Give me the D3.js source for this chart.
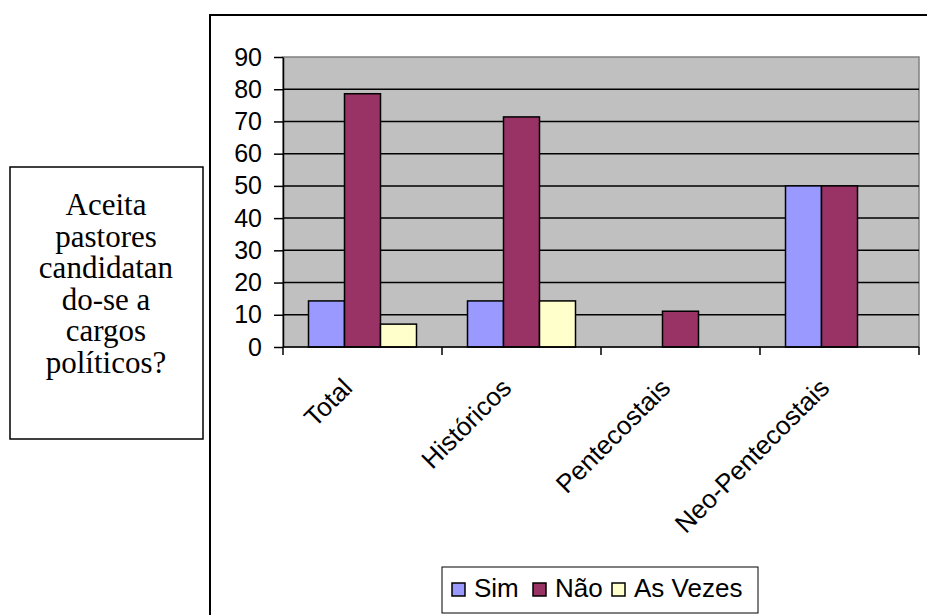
<!DOCTYPE html>
<html>
<head>
<meta charset="utf-8">
<script src="https://cdn.jsdelivr.net/npm/d3@7"></script>
<style>
  body { margin: 0; background: #fff; }
  svg { display: block; }
</style>
</head>
<body>
<script>
var categories = ["Total", "Históricos", "Pentecostais", "Neo-Pentecostais"];
var series = ["Sim", "Não", "As Vezes"];
var sim = [14.3, 14.3, 0, 50];
var nao = [78.6, 71.4, 11.1, 50];
var asVezes = [7.1, 14.3, 0, 0];
var yTicks = [0, 10, 20, 30, 40, 50, 60, 70, 80, 90];
var colors = ["#9999FF", "#993366", "#FFFFCC"];
var questionLines = ["Aceita", "pastores", "candidatan", "do-se a", "cargos", "políticos?"];

var width = 927, height = 615;
var values = [sim, nao, asVezes];
var font = "'Liberation Sans', Arial, sans-serif";

var svg = d3.select("body").append("svg")
    .attr("width", width)
    .attr("height", height);

// chart frame (runs off the page right and bottom)
svg.append("rect")
    .attr("x", 210).attr("y", 15)
    .attr("width", 800).attr("height", 700)
    .attr("fill", "#fff")
    .attr("stroke", "#000")
    .attr("stroke-width", 2);

// question box on the left
svg.append("rect")
    .attr("x", 10).attr("y", 167)
    .attr("width", 193).attr("height", 272)
    .attr("fill", "#fff")
    .attr("stroke", "#000")
    .attr("stroke-width", 1.5);
svg.append("g").selectAll("text")
    .data(questionLines)
    .join("text")
    .attr("x", 106)
    .attr("y", (d, i) => 215 + i * 31.6)
    .attr("text-anchor", "middle")
    .style("font", "31px 'Liberation Serif', 'Times New Roman', serif")
    .text(d => d);

var plot = {left: 283, right: 919, top: 57, bottom: 347};

var x = d3.scaleBand()
    .domain(categories)
    .range([plot.left, plot.right]);
var groupW = 108;
var xs = d3.scaleBand()
    .domain(series)
    .range([0, groupW]);
var y = d3.scaleLinear()
    .domain([0, 90])
    .range([plot.bottom, plot.top]);

// plot background
svg.append("rect")
    .attr("x", plot.left).attr("y", plot.top)
    .attr("width", plot.right - plot.left)
    .attr("height", plot.bottom - plot.top)
    .attr("fill", "#C0C0C0")
    .attr("stroke", "#808080")
    .attr("stroke-width", 1.5);

// gridlines
svg.append("g").selectAll("line")
    .data(yTicks.filter(d => d > 0 && d < 90))
    .join("line")
    .attr("x1", plot.left).attr("x2", plot.right)
    .attr("y1", d => y(d)).attr("y2", d => y(d))
    .attr("stroke", "#000")
    .attr("stroke-width", 1.5);

// bars
var bars = [];
categories.forEach((c, i) => {
    series.forEach((s, j) => {
        if (values[j][i] > 0) bars.push({cat: c, ser: s, idx: j, value: values[j][i]});
    });
});
svg.append("g").selectAll("rect")
    .data(bars)
    .join("rect")
    .attr("x", d => x(d.cat) + (x.bandwidth() - groupW) / 2 + xs(d.ser))
    .attr("y", d => y(d.value))
    .attr("width", xs.bandwidth())
    .attr("height", d => y(0) - y(d.value))
    .attr("fill", d => colors[d.idx])
    .attr("stroke", "#000")
    .attr("stroke-width", 1.5);

// y axis
var yAxis = svg.append("g")
    .attr("transform", `translate(${plot.left},0)`)
    .call(d3.axisLeft(y).tickValues(yTicks).tickSize(9).tickPadding(12).tickSizeOuter(0));
yAxis.select(".domain").attr("stroke", "#000").attr("stroke-width", 1.5);
yAxis.selectAll(".tick line").attr("stroke", "#000").attr("stroke-width", 1.5);
yAxis.selectAll("text")
    .style("font", "25px " + font)
    .attr("fill", "#000");

// x axis: baseline with ticks on category boundaries
var xg = svg.append("g");
xg.append("line")
    .attr("x1", plot.left).attr("x2", plot.right)
    .attr("y1", y(0)).attr("y2", y(0))
    .attr("stroke", "#000").attr("stroke-width", 1.5);
var bounds = categories.map(c => x(c)).concat([plot.right]);
xg.selectAll("line.tk")
    .data(bounds)
    .join("line")
    .attr("class", "tk")
    .attr("x1", d => d).attr("x2", d => d)
    .attr("y1", y(0)).attr("y2", y(0) + 8)
    .attr("stroke", "#000").attr("stroke-width", 1.5);
xg.selectAll("text")
    .data(categories)
    .join("text")
    .attr("transform", d => `translate(${x(d) + x.bandwidth() / 2 - 15},${y(0) + 36}) rotate(-45)`)
    .attr("text-anchor", "end")
    .attr("dy", "0.35em")
    .style("font", "26px " + font)
    .text(d => d);

// legend
var leg = svg.append("g");
leg.append("rect")
    .attr("x", 442).attr("y", 567)
    .attr("width", 316).attr("height", 46)
    .attr("fill", "#fff")
    .attr("stroke", "#000")
    .attr("stroke-width", 1);
var legX = [452, 533, 612];
var items = leg.selectAll("g")
    .data(series)
    .join("g")
    .attr("transform", (d, i) => `translate(${legX[i]},583)`);
items.append("rect")
    .attr("width", 13).attr("height", 13)
    .attr("fill", (d, i) => colors[i])
    .attr("stroke", "#000")
    .attr("stroke-width", 1.5);
items.append("text")
    .attr("x", 22)
    .attr("y", 14)
    .style("font", "26px " + font)
    .text(d => d);
</script>
</body>
</html>
